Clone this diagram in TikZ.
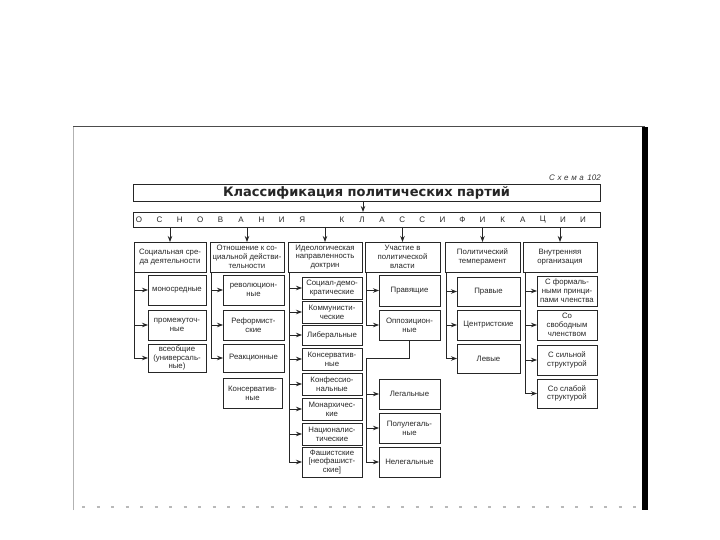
\documentclass[tikz,border=0pt]{standalone}
\usepackage{fontspec}
\setmainfont{Liberation Sans}
\newfontfamily\titlefont{DejaVu Sans}
\usetikzlibrary{arrows.meta}
\tikzset{
  cbox/.style={draw=black!85, line width=0.85pt, inner sep=1pt, outer sep=0pt, align=center,
               font=\fontsize{7.8}{8.8}\selectfont, text=black!85},
  ln/.style={draw=black!85, line width=0.85pt},
  arr/.style={ln, -{Stealth[length=6pt,width=4.5pt]}},
  lt/.style={inner sep=0pt, font=\fontsize{8}{9}\selectfont, text=black!85},
}
\newcommand\bx[6]{\node[cbox, minimum width={(#4)-(#2)}, minimum height={(#5)-(#3)}] (#1) at ({((#2)+(#4))/2},{((#3)+(#5))/2}) {#6};}
\begin{document}
\begin{tikzpicture}[x=1pt,y=-1pt]
\useasboundingbox (0,0) rectangle (720,540);
% page frame of the scan
\draw[gray!60, line width=0.8pt] (73,510) -- (73,127);
\draw[black!70, line width=1pt] (73,127) -- (645,127);
\fill[black] (642,127.5) rectangle (648,510);
\draw[gray!55, line width=2.5pt, dash pattern=on 3pt off 11.5pt] (82,507) -- (640,507);

\node[anchor=east, inner sep=0pt, font=\fontsize{8}{9}\selectfont\itshape, text=black!80] (schema) at (601,178) {С\,\,х\,\,е\,\,м\,\,а\, 102};

% title and bar
\node[cbox, minimum width=467, minimum height=17, font=\titlefont\bfseries\fontsize{13}{15}\selectfont] (title) at (366.5,192.5) {Классификация политических партий};
\node[cbox, minimum width=467, minimum height=15] (bar) at (366.5,219.5) {};
\foreach \ch [count=\i] in {О,С,Н,О,В,А,Н,И,Я}
  \node[lt] (la\i) at ({139+(\i-1)*20.4},219.5) {\ch};
\foreach \ch [count=\i] in {К,Л,А,С,С,И,Ф,И,К,А,Ц,И,И}
  \node[lt] (lb\i) at ({342+(\i-1)*20.08},219.5) {\ch};
\draw[arr] ([xshift=-3.5]title.south) -- ([xshift=-3.5]bar.north);

% headers
\bx{h1}{134}{242}{206}{272}{Социальная сре-\\да деятельности}
\bx{h2}{210}{242}{284}{272}{Отношение к со-\\циальной действи-\\тельности}
\bx{h3}{288}{242}{362}{272}{Идеологическая\\направленность\\доктрин}
\bx{h4}{365}{242}{440}{272}{Участие в\\политической\\власти}
\bx{h5}{445}{242}{520}{272}{Политический\\темперамент}
\bx{h6}{523}{242}{597}{272}{Внутренняя\\организация}
\foreach \h in {h1,h2,h3,h4,h5,h6}
  \draw[arr] (bar.south -| \h.north) -- (\h.north);

% column 1
\bx{a1}{148}{275}{206}{305}{моносредные}
\bx{a2}{148}{310}{206}{340}{промежуточ-\\ные}
\bx{a3}{148}{344}{206}{372}{всеобщие\\(универсаль-\\ные)}
% column 2
\bx{b1}{223}{275}{284}{305}{революцион-\\ные}
\bx{b2}{223}{310}{284}{340}{Реформист-\\ские}
\bx{b3}{223}{344}{284}{372}{Реакционные}
\bx{b4}{223}{378}{282}{408}{Консерватив-\\ные}
% column 3
\bx{c1}{302}{277}{362}{299}{Социал-демо-\\кратические}
\bx{c2}{302}{301}{362}{323}{Коммунисти-\\ческие}
\bx{c3}{302}{325}{362}{345}{Либеральные}
\bx{c4}{302}{348}{362}{370}{Консерватив-\\ные}
\bx{c5}{302}{373}{362}{395}{Конфессио-\\нальные}
\bx{c6}{302}{398}{362}{420}{Монархичес-\\кие}
\bx{c7}{302}{423}{362}{445}{Националис-\\тические}
\bx{c8}{302}{447}{362}{477}{Фашистские\\{[}неофашист-\\ские{]}}
% column 4
\bx{d1}{379}{275}{440}{306}{Правящие}
\bx{d2}{379}{310}{440}{340}{Оппозицион-\\ные}
\bx{d3}{379}{379}{440}{409}{Легальные}
\bx{d4}{379}{413}{440}{443}{Полулегаль-\\ные}
\bx{d5}{379}{447}{440}{477}{Нелегальные}
% column 5
\bx{e1}{457}{277}{520}{306}{Правые}
\bx{e2}{457}{310}{520}{340}{Центристские}
\bx{e3}{457}{344}{520}{373}{Левые}
% column 6
\bx{f1}{537}{276}{597}{306}{С формаль-\\ными принци-\\пами членства}
\bx{f2}{537}{310}{597}{340}{Со\\свободным\\членством}
\bx{f3}{537}{345}{597}{375}{С сильной\\структурой}
\bx{f4}{537}{379}{597}{408}{Со слабой\\структурой}

% connectors
\foreach \c in {a1,a2,a3} \draw[arr] ([xshift=0.5]h1.south west) |- (\c.west);
\foreach \c in {b1,b2,b3} \draw[arr] ([xshift=1]h2.south west) |- (\c.west);
\foreach \c in {c1,c2,c3,c4,c5,c6,c7,c8} \draw[arr] ([xshift=1]h3.south west) |- (\c.west);
\foreach \c in {d1,d2} \draw[arr] ([xshift=1]h4.south west) |- (\c.west);
\foreach \c in {e1,e2,e3} \draw[arr] ([xshift=1]h5.south west) |- (\c.west);
\foreach \c in {f1,f2,f3,f4} \draw[arr] ([xshift=2]h6.south west) |- (\c.west);
\coordinate (j) at (366,358);
\draw[ln] (d2.south) |- (j);
\foreach \c in {d3,d4,d5} \draw[arr] (j) |- (\c.west);
\end{tikzpicture}
\end{document}
